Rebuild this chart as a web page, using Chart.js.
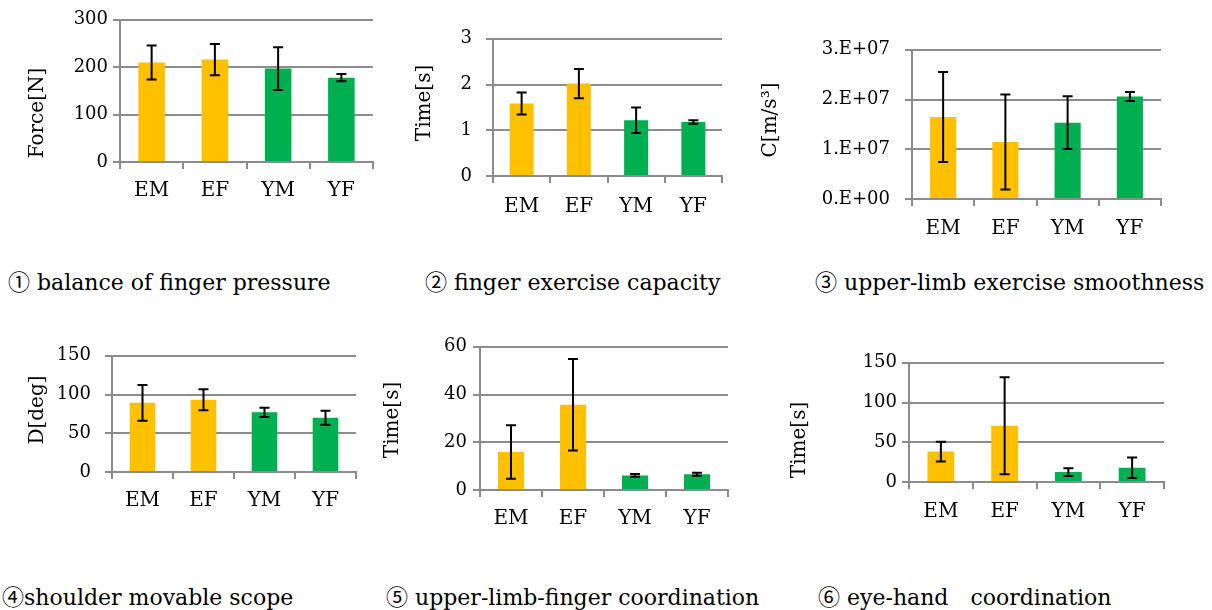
<!DOCTYPE html>
<html>
<head>
<meta charset="utf-8">
<script src="https://cdn.jsdelivr.net/npm/chart.js@4"></script>
<style>
  html, body { margin: 0; padding: 0; background: #fff; }
  body { width: 1212px; height: 610px; position: relative; overflow: hidden; }
  canvas { position: absolute; }
  .cap { position: absolute; font-family: "DejaVu Serif", serif; font-size: 22px; color: #000; white-space: pre; line-height: 24px; }
  .cap b { font-weight: normal; font-family: "Noto Sans CJK JP", sans-serif; font-size: 22px; }
</style>
</head>
<body>
<div class="cap" style="left:8px;top:268px"><b>①</b> balance of finger pressure</div>
<div class="cap" style="left:425px;top:268px"><b>②</b> finger exercise capacity</div>
<div class="cap" style="left:815px;top:268px"><b>③</b> upper-limb exercise smoothness</div>
<div class="cap" style="left:2px;top:583px"><b>④</b>shoulder movable scope</div>
<div class="cap" style="left:386px;top:583px"><b>⑤</b> upper-limb-finger coordination</div>
<div class="cap" style="left:818px;top:583px"><b>⑥</b> eye-hand　coordination</div>
<script>
// ── Data ──────────────────────────────────────────────────────────────────────
const groups = ["EM", "EF", "YM", "YF"];
const groupColors = ["#FFC000", "#FFC000", "#00B050", "#00B050"];

const pressureMean = [210, 216, 197, 178];
const pressureErr  = [36, 33, 45, 7.5];
const pressureTicks = ["0", "100", "200", "300"];

const fingerMean = [1.585, 2.02, 1.22, 1.18];
const fingerErr  = [0.24, 0.32, 0.28, 0.04];
const fingerTicks = ["0", "1", "2", "3"];

const smoothMean = [1.65e7, 1.148e7, 1.535e7, 2.06e7];
const smoothErr  = [0.905e7, 0.955e7, 0.53e7, 0.09e7];
const smoothTicks = ["0.E+00", "1.E+07", "2.E+07", "3.E+07"];

const shoulderMean = [89.3, 93.3, 77, 70];
const shoulderErr  = [23, 13.5, 6, 9];
const shoulderTicks = ["0", "50", "100", "150"];

const coordMean = [15.9, 35.7, 6.1, 6.6];
const coordErr  = [11.2, 19.2, 0.6, 0.65];
const coordTicks = ["0", "20", "40", "60"];

const eyeHandMean = [38.3, 70.8, 12.5, 17.9];
const eyeHandErr  = [12.5, 61, 4.8, 13];
const eyeHandTicks = ["0", "50", "100", "150"];

// ── Panel layout (page px: chart area edges, y-title centre) ─────────────────
const panels = [
  { mean: pressureMean, err: pressureErr, ticks: pressureTicks, step: 100, yTitle: "Force[N]",
    left: 120, top: 19, right: 373, bottom: 162, tx: 38, ty: 113, tickPad: 5, labelPad: 10 },
  { mean: fingerMean, err: fingerErr, ticks: fingerTicks, step: 1, yTitle: "Time[s]",
    left: 493, top: 29, right: 722, bottom: 176, tx: 425, ty: 103, tickPad: 14, labelPad: 12 },
  { mean: smoothMean, err: smoothErr, ticks: smoothTicks, step: 1e7, yTitle: "C[m/s³]",
    left: 912, top: 39, right: 1161, bottom: 199, tx: 771, ty: 120, tickPad: 15, labelPad: 11 },
  { mean: shoulderMean, err: shoulderErr, ticks: shoulderTicks, step: 50, yTitle: "D[deg]",
    left: 112, top: 346, right: 356, bottom: 472, tx: 38, ty: 410, tickPad: 14, labelPad: 10 },
  { mean: coordMean, err: coordErr, ticks: coordTicks, step: 20, yTitle: "Time[s]",
    left: 480, top: 345, right: 728, bottom: 490, tx: 393, ty: 420, tickPad: 6, labelPad: 10 },
  { mean: eyeHandMean, err: eyeHandErr, ticks: eyeHandTicks, step: 50, yTitle: "Time[s]",
    left: 909, top: 362, right: 1164, bottom: 482, tx: 800, ty: 440, tickPad: 5, labelPad: 11 },
];

const GRID = "#8c8c8c";
const FONT = "'DejaVu Serif', serif";

// ── Plugins ───────────────────────────────────────────────────────────────────
const errorBars = {
  id: "errorBars",
  afterDatasetsDraw(chart, args, opts) {
    const { ctx, scales: { y } } = chart;
    const meta = chart.getDatasetMeta(0);
    ctx.save();
    ctx.strokeStyle = "#000";
    ctx.lineWidth = 2;
    meta.data.forEach((bar, i) => {
      const v = opts.mean[i], e = opts.err[i];
      const yHi = y.getPixelForValue(v + e);
      const yLo = y.getPixelForValue(v - e);
      ctx.beginPath();
      ctx.moveTo(bar.x, yHi); ctx.lineTo(bar.x, yLo);
      ctx.moveTo(bar.x - 5, yHi); ctx.lineTo(bar.x + 5, yHi);
      ctx.moveTo(bar.x - 5, yLo); ctx.lineTo(bar.x + 5, yLo);
      ctx.stroke();
    });
    ctx.restore();
  }
};

const yTitle = {
  id: "yTitle",
  afterDraw(chart, args, opts) {
    const { ctx } = chart;
    ctx.save();
    ctx.translate(opts.x, opts.y);
    ctx.rotate(-Math.PI / 2);
    ctx.font = "20px " + FONT;
    ctx.fillStyle = "#000";
    ctx.textAlign = "center";
    ctx.textBaseline = "middle";
    ctx.fillText(opts.text, 0, 0);
    ctx.restore();
  }
};

// ── Build charts ──────────────────────────────────────────────────────────────
for (const p of panels) {
  const x0 = p.tx - 15, y0 = p.top - 15;
  const x1 = p.right + 12, y1 = p.bottom + 48;
  const canvas = document.createElement("canvas");
  canvas.style.left = x0 + "px";
  canvas.style.top = y0 + "px";
  canvas.style.width = (x1 - x0) + "px";
  canvas.style.height = (y1 - y0) + "px";
  canvas.width = x1 - x0;
  canvas.height = y1 - y0;
  document.body.appendChild(canvas);

  const yMax = p.step * (p.ticks.length - 1);

  new Chart(canvas, {
    type: "bar",
    data: {
      labels: groups,
      datasets: [{
        data: p.mean,
        backgroundColor: groupColors,
        barPercentage: 0.42,
        categoryPercentage: 1,
      }]
    },
    options: {
      responsive: false,
      animation: false,
      layout: { padding: { top: p.top - y0, right: x1 - p.right, left: 0, bottom: 0 } },
      plugins: {
        legend: { display: false },
        tooltip: { enabled: false },
        errorBars: { mean: p.mean, err: p.err },
        yTitle: { text: p.yTitle, x: p.tx - x0, y: p.ty - y0 },
      },
      scales: {
        x: {
          grid: { drawOnChartArea: false, color: GRID, lineWidth: 2, tickLength: 7, offset: true },
          border: { color: GRID, width: 2 },
          ticks: { color: "#000", font: { family: FONT, size: 20 }, padding: p.labelPad },
          afterFit: s => { s.height = y1 - p.bottom; },
        },
        y: {
          min: 0,
          max: yMax,
          grid: { color: GRID, lineWidth: 2, tickLength: 7 },
          border: { color: GRID, width: 2 },
          ticks: {
            stepSize: p.step,
            color: "#000",
            font: { family: FONT, size: 18 },
            padding: p.tickPad,
            callback: (v, i) => p.ticks[i],
          },
          afterFit: s => { s.width = p.left - x0; },
        }
      }
    },
    plugins: [errorBars, yTitle]
  });
}
</script>
</body>
</html>
